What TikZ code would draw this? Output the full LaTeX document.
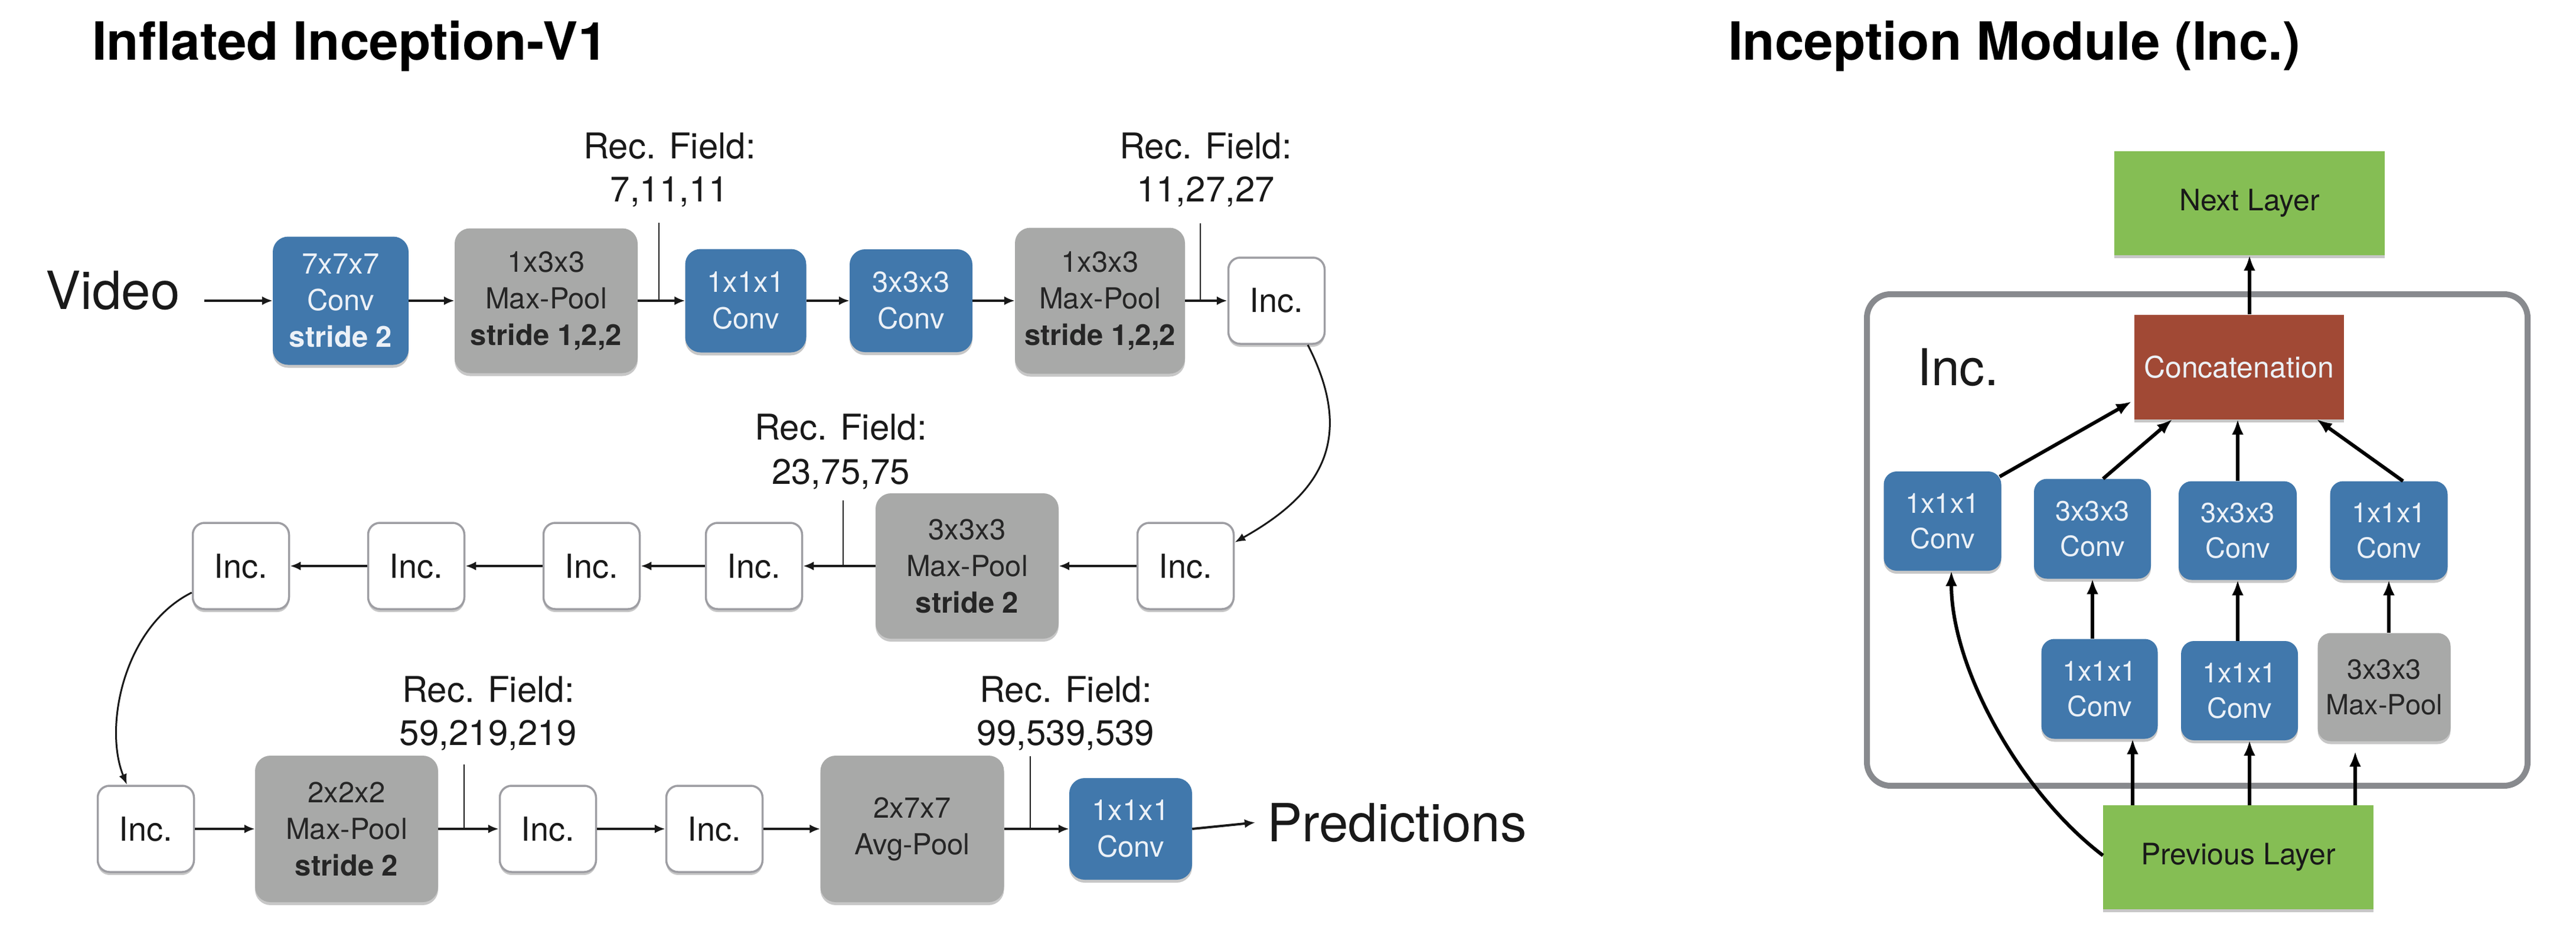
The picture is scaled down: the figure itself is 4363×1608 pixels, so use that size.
\documentclass[tikz,border=0pt]{standalone}
\usepackage{fontspec}
\setmainfont{TeX Gyre Heros}
\usetikzlibrary{arrows.meta,shadows}
\definecolor{convblue}{RGB}{65,120,172}
\definecolor{convtext}{RGB}{236,241,247}
\definecolor{poolgray}{RGB}{168,169,168}
\definecolor{pooltext}{RGB}{38,38,38}
\definecolor{incgray}{RGB}{158,158,163}
\definecolor{layergreen}{RGB}{133,190,84}
\definecolor{concatred}{RGB}{161,73,53}
\definecolor{framegray}{RGB}{136,138,142}
\definecolor{ink}{RGB}{25,25,25}
\tikzset{
  shad/.style={drop shadow={shadow xshift=0pt,shadow yshift=-5pt,opacity=0.22,fill=black}},
  blk/.style={rounded corners=26pt, align=center, inner sep=0pt, shad,
    font=\fontsize{49}{62}\selectfont},
  bluebox/.style={blk, fill=convblue, text=convtext},
  graybox/.style={blk, fill=poolgray, text=pooltext},
  incbox/.style={rounded corners=20pt, draw=incgray, line width=3.5pt, fill=white,
    minimum width=163pt, minimum height=146pt, inner sep=0pt, shad,
    font=\fontsize{56}{62}\selectfont, text=ink},
  conn/.style={-{Latex[length=18pt,width=15pt]}, line width=4pt, draw=ink},
  curv/.style={-{Latex[length=18pt,width=14pt]}, line width=3pt, draw=ink},
  tickline/.style={line width=2.5pt, draw=ink},
  rec/.style={anchor=base, inner sep=0pt, font=\fontsize{60}{72}\selectfont, text=ink},
  bigtext/.style={inner sep=0pt, font=\fontsize{89}{100}\selectfont, text=ink},
  titletext/.style={anchor=base west, inner sep=0pt, font=\bfseries\fontsize{89}{100}\selectfont, text=black},
  rblk/.style={rounded corners=22pt, align=center, inner sep=0pt, shad,
    font=\fontsize{47}{60}\selectfont},
  rblue/.style={rblk, fill=convblue, text=convtext},
  rgray/.style={rblk, fill=poolgray, text=pooltext},
  layerbox/.style={fill=layergreen, inner sep=0pt, shad, text=ink,
    minimum width=458pt, minimum height=176pt, font=\fontsize{50}{60}\selectfont},
  concatbox/.style={fill=concatred, inner sep=0pt, shad, text=convtext,
    minimum width=355pt, minimum height=177pt, font=\fontsize{50}{60}\selectfont},
  rconn/.style={-{Latex[length=26pt,width=20pt]}, line width=6pt, draw=black},
}
\begin{document}
\begin{tikzpicture}[x=1pt,y=-1pt]
\useasboundingbox (0,0) rectangle (4363,1608);
\fill[white] (0,0) rectangle (4363,1608);

% ---------------- titles ----------------
\node[titletext] (title1) at (156,102) {Inflated Inception-V1};
\node[titletext] (title2) at (2927,102) {Inception Module (Inc.)};

% ---------------- row 1 ----------------
\node[bigtext, anchor=base east, inner xsep=41pt] (video) at (346,523) {Video};
\coordinate (vin) at (346,509);
\node[bluebox, minimum width=230pt, minimum height=217pt] (conv1) at (577,509) {7x7x7\\Conv\\\textbf{stride 2}};
\node[graybox, minimum width=310pt, minimum height=245pt] (pool1) at (925,509) {1x3x3\\Max-Pool\\\textbf{stride 1,2,2}};
\node[bluebox, minimum width=205pt, minimum height=175pt] (conv2) at (1263,509) {1x1x1\\Conv};
\node[bluebox, minimum width=208pt, minimum height=174pt] (conv3) at (1543,509) {3x3x3\\Conv};
\node[graybox, minimum width=288pt, minimum height=247pt] (pool2) at (1863,509) {1x3x3\\Max-Pool\\\textbf{stride 1,2,2}};
\node[incbox] (inc1) at (2162,509) {Inc.};

% ---------------- row 2 ----------------
\node[incbox] (r2a) at (2008,958) {Inc.};
\node[graybox, minimum width=310pt, minimum height=246pt] (pool3) at (1638,958) {3x3x3\\Max-Pool\\\textbf{stride 2}};
\node[incbox] (inc2) at (1277,958) {Inc.};
\node[incbox] (inc3) at (1002,958) {Inc.};
\node[incbox] (inc4) at (705,958) {Inc.};
\node[incbox] (inc5) at (408,958) {Inc.};

% ---------------- row 3 ----------------
\node[incbox] (inca) at (247,1403) {Inc.};
\node[graybox, minimum width=310pt, minimum height=248pt] (pool4) at (587,1403) {2x2x2\\Max-Pool\\\textbf{stride 2}};
\node[incbox] (incb) at (928,1403) {Inc.};
\node[incbox] (incc) at (1210,1403) {Inc.};
\node[graybox, minimum width=311pt, minimum height=248pt] (pool5) at (1545,1403) {2x7x7\\Avg-Pool};
\node[bluebox, minimum width=208pt, minimum height=172pt] (convf) at (1915,1403) {1x1x1\\Conv};
\node[bigtext, anchor=base west, inner xsep=20pt] (pred) at (2126,1424) {Predictions};

% ---------------- receptive field labels ----------------
\node[rec] (l1a) at (1134,268) {Rec. Field:};
\node[rec] (l1b) at (1134,341) {7,11,11};
\node[rec] (l2a) at (2042,268) {Rec. Field:};
\node[rec] (l2b) at (2042,341) {11,27,27};
\node[rec] (l3a) at (1424,744) {Rec. Field:};
\node[rec] (l3b) at (1424,819) {23,75,75};
\node[rec] (l4a) at (827,1188) {Rec. Field:};
\node[rec] (l4b) at (827,1261) {59,219,219};
\node[rec] (l5a) at (1805,1188) {Rec. Field:};
\node[rec] (l5b) at (1805,1261) {99,539,539};

\coordinate (t1) at (1116,377);
\coordinate (t2) at (2033,378);
\coordinate (t3) at (1428,847);
\coordinate (t4) at (786,1294);
\coordinate (t5) at (1745,1280);
\draw[tickline] (t1) -- (t1 |- pool1.east);
\draw[tickline] (t2) -- (t2 |- pool2.east);
\draw[tickline] (t3) -- (t3 |- pool3.west);
\draw[tickline] (t4) -- (t4 |- pool4.east);
\draw[tickline] (t5) -- (t5 |- pool5.east);

% ---------------- connectors ----------------
\draw[conn] (vin) -- (conv1.west);
\draw[conn] (conv1.east) -- (pool1.west);
\draw[conn] (pool1.east) -- (conv2.west);
\draw[conn] (conv2.east) -- (conv3.west);
\draw[conn] (conv3.east) -- (pool2.west);
\draw[conn] (pool2.east) -- (inc1.west);

\draw[conn] (r2a.west) -- (pool3.east);
\draw[conn] (pool3.west) -- (inc2.east);
\draw[conn] (inc2.west) -- (inc3.east);
\draw[conn] (inc3.west) -- (inc4.east);
\draw[conn] (inc4.west) -- (inc5.east);

\draw[conn] (inca.east) -- (pool4.west);
\draw[conn] (pool4.east) -- (incb.west);
\draw[conn] (incb.east) -- (incc.west);
\draw[conn] (incc.east) -- (pool5.west);
\draw[conn] (pool5.east) -- (convf.west);
\draw[conn] (convf.east) -- (pred.west);

\draw[curv] ([xshift=53pt]inc1.south) .. controls (2300,750) and (2230,840) .. ([yshift=40pt]r2a.east);
\draw[curv] ([yshift=-45pt]inc5.west) .. controls (210,1060) and (175,1230) .. ([xshift=-32pt]inca.north);

% ---------------- inception module ----------------
\node[draw=framegray, line width=10pt, rounded corners=40pt, minimum width=1119pt,
      minimum height=832pt, inner sep=0pt] (frame) at (3721.5,914) {};
\node[anchor=base west, inner sep=0pt, font=\fontsize{86}{90}\selectfont, text=ink] (inclabel) at (3247,652) {Inc.};
\node[layerbox] (next) at (3810,344) {Next Layer};
\node[layerbox] (prev) at (3791,1451) {Previous Layer};
\node[concatbox] (concat) at (3792,621) {Concatenation};

\node[rblue, minimum width=199pt, minimum height=168pt] (A1) at (3290,882) {1x1x1\\Conv};
\node[rblue, minimum width=198pt, minimum height=169pt] (A2) at (3544,895) {3x3x3\\Conv};
\node[rblue, minimum width=200pt, minimum height=167pt] (A3) at (3790,898) {3x3x3\\Conv};
\node[rblue, minimum width=199pt, minimum height=167pt] (A4) at (4046,898) {1x1x1\\Conv};
\node[rblue, minimum width=197pt, minimum height=169pt] (B2) at (3556,1166) {1x1x1\\Conv};
\node[rblue, minimum width=198pt, minimum height=168pt] (B3) at (3793,1169) {1x1x1\\Conv};
\node[rgray, minimum width=225pt, minimum height=183pt] (B4) at (4038,1163) {3x3x3\\Max-Pool};

\draw[rconn] (concat.north -| next.south) -- (next.south);
\draw[rconn] ([xshift=-3pt,yshift=-9pt]A1.north east) -- ([xshift=-4pt,yshift=30pt]concat.south west);
\draw[rconn] ([xshift=18pt]A2.north) -- ([xshift=65pt]concat.south west);
\draw[rconn] (A3.north) -- (A3.north |- concat.south);
\draw[rconn] ([xshift=24pt]A4.north) -- ([xshift=-46pt]concat.south east);
\draw[rconn] (B2.north -| A2.south) -- (A2.south);
\draw[rconn] (B3.north -| A3.south) -- (A3.south);
\draw[rconn] (B4.north -| A4.south) -- (A4.south);

\coordinate (p2) at ([xshift=56pt]B2.south);
\coordinate (p3) at ([xshift=17pt]B3.south);
\coordinate (p4) at ([xshift=-49pt,yshift=-17pt]B4.south);
\draw[rconn] (p2 |- prev.north) -- (p2);
\draw[rconn] (p3 |- prev.north) -- (p3);
\draw[rconn] (p4 |- prev.north) -- (p4);
\draw[rconn] ([yshift=3pt]prev.west) .. controls (3420,1340) and (3305,1130) .. ([xshift=15pt]A1.south);
\end{tikzpicture}
\end{document}
